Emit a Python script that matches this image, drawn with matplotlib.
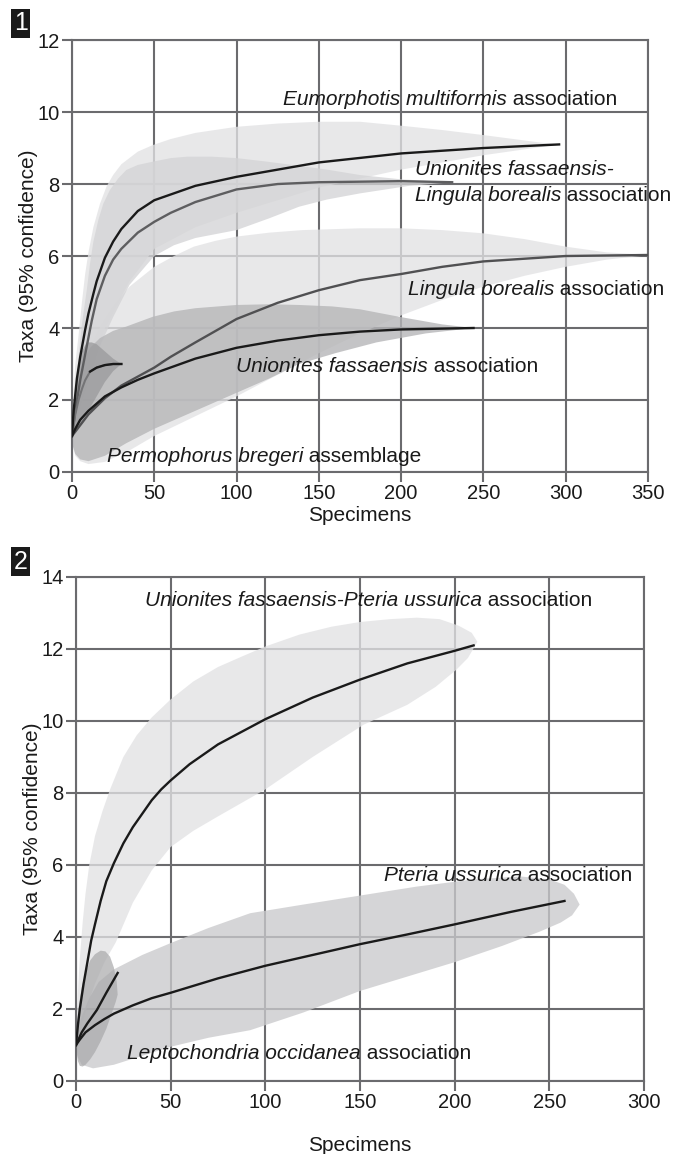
import matplotlib
matplotlib.use('Agg')
import matplotlib.pyplot as plt

plt.rcParams['font.family'] = ['Liberation Sans', 'DejaVu Sans']

# ---- panel 1: rarefaction curves ----
eum_x = [0, 1, 3, 5, 8, 10, 13, 15, 20, 25, 30, 40, 50, 75, 100, 150, 200, 250, 296]
eum_y = [1, 1.7, 2.6, 3.2, 3.95, 4.4, 4.95, 5.3, 5.95, 6.4, 6.75, 7.25, 7.55, 7.95, 8.2, 8.6, 8.85, 9.0, 9.1]
uflb_x = [0, 2, 5, 9, 12, 15, 20, 25, 30, 40, 50, 60, 75, 100, 125, 150, 200, 231]
uflb_y = [1, 1.7, 2.55, 3.5, 4.2, 4.8, 5.45, 5.9, 6.2, 6.65, 6.95, 7.2, 7.5, 7.85, 8.0, 8.05, 8.08, 8.05]
lb_x = [0, 5, 10, 20, 30, 40, 50, 60, 75, 100, 125, 150, 175, 200, 225, 250, 300, 352]
lb_y = [1, 1.3, 1.6, 2.05, 2.4, 2.65, 2.9, 3.2, 3.6, 4.25, 4.7, 5.05, 5.33, 5.5, 5.7, 5.85, 6.0, 6.03]
uf_x = [0, 2, 5, 10, 15, 20, 30, 40, 50, 75, 100, 125, 150, 175, 200, 244]
uf_y = [1, 1.2, 1.45, 1.7, 1.9, 2.1, 2.35, 2.56, 2.74, 3.15, 3.45, 3.65, 3.8, 3.9, 3.96, 4.0]
pb_x = [0, 2, 4, 6, 8, 11, 15, 20, 25, 30]
pb_y = [1, 1.6, 2.0, 2.3, 2.55, 2.79, 2.9, 2.97, 3.0, 3.0]

# 95% confidence envelopes (upper / lower edges)
eum_up_x = [0, 1, 2, 4, 6, 8, 10, 13, 17, 21, 25, 30, 40, 49, 60, 75, 100, 125, 150, 175,
            200, 225, 250, 270, 285, 296]
eum_up_y = [1, 2.2, 3.0, 3.8, 4.7, 5.5, 6.1, 6.8, 7.45, 7.93, 8.25, 8.55, 8.9, 9.08, 9.25, 9.42,
            9.59, 9.68, 9.73, 9.73, 9.62, 9.5, 9.36, 9.24, 9.15, 9.1]
eum_lo_x = [0, 10, 20, 35, 50, 75, 100, 150, 200, 250, 296]
eum_lo_y = [1, 2.8, 4.0, 5.3, 6.2, 6.8, 7.2, 7.9, 8.4, 8.8, 9.1]
uflb_up_x = [0, 2, 4, 6, 9, 11, 13, 16, 19, 23, 28, 33, 40, 49, 60, 70, 85, 100, 117, 134,
             155, 175, 200, 231]
uflb_up_y = [1, 2.0, 3.2, 4.1, 5.06, 5.8, 6.4, 7.0, 7.45, 7.83, 8.15, 8.39, 8.53, 8.62, 8.72,
             8.76, 8.76, 8.72, 8.63, 8.53, 8.4, 8.25, 8.13, 8.05]
uflb_lo_x = [0, 5, 10, 17, 25, 35, 50, 62, 75, 100, 120, 138, 155, 175, 205, 231]
uflb_lo_y = [1, 1.8, 2.5, 3.5, 4.3, 5.2, 6.0, 6.3, 6.5, 6.72, 7.05, 7.37, 7.57, 7.74, 7.95, 8.05]
lb_up_x = [0, 3, 5, 8, 12, 18, 25, 35, 50, 62, 74, 87, 100, 120, 140, 175, 200, 225, 250,
           275, 300, 325, 352]
lb_up_y = [1, 1.9, 2.4, 3.0, 3.55, 4.1, 4.6, 5.15, 5.7, 6.0, 6.26, 6.42, 6.54, 6.65, 6.72,
           6.77, 6.77, 6.72, 6.63, 6.47, 6.26, 6.1, 6.03]
lb_lo_x = [0, 2, 5, 10, 20, 35, 50, 75, 100, 125, 150, 175, 200, 225, 250, 275, 300, 325, 352]
lb_lo_y = [0.8, 0.45, 0.3, 0.22, 0.28, 0.6, 1.0, 1.55, 2.1, 2.7, 3.3, 3.85, 4.35, 4.78, 5.15,
           5.45, 5.7, 5.9, 6.03]
uf_up_x = [0, 2, 4, 7, 11, 17, 25, 33, 49, 62, 75, 100, 120, 138, 158, 175, 199, 225, 244]
uf_up_y = [1, 2.0, 2.65, 3.1, 3.45, 3.72, 3.92, 4.04, 4.31, 4.46, 4.55, 4.64, 4.66, 4.64, 4.6,
           4.52, 4.31, 4.1, 4.0]
uf_lo_x = [0, 2, 5, 10, 20, 33, 50, 75, 100, 120, 138, 160, 185, 215, 244]
uf_lo_y = [0.8, 0.5, 0.35, 0.3, 0.45, 0.8, 1.2, 1.7, 2.2, 2.6, 3.0, 3.3, 3.6, 3.85, 4.0]
pb_up_x = [0, 2, 4, 6, 9, 12, 15, 20, 25, 30]
pb_up_y = [1, 2.3, 3.0, 3.35, 3.6, 3.6, 3.55, 3.35, 3.15, 3.0]
pb_lo_x = [0, 5, 10, 15, 20, 25, 30]
pb_lo_y = [1, 1.3, 1.7, 2.1, 2.5, 2.8, 3.0]

# ---- panel 2 ----
ufpu_x = [0, 1, 2, 4, 6, 8, 10, 13, 16, 20, 25, 30, 40, 45, 50, 60, 75, 100, 125, 150, 175, 200, 210]
ufpu_y = [1, 1.55, 2.0, 2.7, 3.3, 3.9, 4.35, 5.0, 5.55, 6.05, 6.6, 7.05, 7.8, 8.1, 8.35, 8.8,
          9.35, 10.05, 10.65, 11.15, 11.6, 11.95, 12.1]
pu_x = [0, 2, 5, 10, 15, 20, 30, 40, 50, 75, 100, 125, 150, 175, 200, 230, 258]
pu_y = [1, 1.15, 1.35, 1.55, 1.72, 1.87, 2.1, 2.3, 2.45, 2.85, 3.2, 3.5, 3.8, 4.07, 4.35, 4.7, 5.0]
lo_x = [0, 3, 6, 11, 16, 22]
lo_y = [1, 1.35, 1.6, 1.97, 2.45, 3.0]

ufpu_up_x = [0, 1, 2, 3.5, 5, 7, 10, 14, 18, 25, 32, 40, 50, 62, 75, 88, 100, 118, 135, 150,
             166, 180, 192, 202, 209, 212]
ufpu_up_y = [1.5, 2.5, 3.4, 4.4, 5.2, 6.0, 6.8, 7.5, 8.1, 9.0, 9.6, 10.1, 10.6, 11.1, 11.5,
             11.8, 12.07, 12.4, 12.62, 12.75, 12.83, 12.87, 12.83, 12.65, 12.45, 12.2]
ufpu_lo_x = [0, 3, 6, 10, 15, 21, 30, 40, 50, 62, 75, 100, 125, 152, 175, 190, 201, 207, 212]
ufpu_lo_y = [1.0, 1.5, 2.1, 2.7, 3.3, 3.85, 4.95, 5.85, 6.5, 6.95, 7.35, 8.1, 9.0, 9.9, 10.45,
             10.95, 11.43, 11.75, 12.2]
pu_up_x = [0, 3, 7, 12, 20, 35, 50, 70, 92, 120, 150, 180, 210, 235, 250, 258, 263, 266]
pu_up_y = [1.2, 1.8, 2.3, 2.75, 3.1, 3.5, 3.83, 4.25, 4.66, 4.9, 5.15, 5.4, 5.6, 5.68, 5.6,
           5.45, 5.2, 4.9]
pu_lo_x = [0, 1, 3, 9, 20, 35, 50, 70, 92, 120, 150, 175, 200, 225, 245, 256, 262, 266]
pu_lo_y = [1.0, 0.65, 0.45, 0.35, 0.45, 0.7, 0.95, 1.2, 1.41, 1.9, 2.5, 2.9, 3.3, 3.75, 4.15,
           4.4, 4.6, 4.9]
lo_up_x = [0, 0.5, 1.5, 3, 5, 7.5, 10, 13, 15.5, 18, 20, 21.5, 22]
lo_up_y = [1.2, 1.6, 2.1, 2.6, 3.0, 3.35, 3.52, 3.62, 3.6, 3.45, 3.15, 2.75, 2.4]
lo_lo_x = [0, 0.3, 1, 2, 3.5, 5, 7.5, 10, 13, 16, 19, 21, 22]
lo_lo_y = [1.2, 0.8, 0.55, 0.42, 0.4, 0.45, 0.6, 0.8, 1.1, 1.45, 1.9, 2.2, 2.4]

GRID = '#6b6b6e'
INK = '#1a1a1a'


def envelope(ax, ux, uy, lx, ly, color, alpha=0.78):
    xs = list(ux) + list(lx)[::-1]
    ys = list(uy) + list(ly)[::-1]
    ax.fill(xs, ys, color=color, alpha=alpha, lw=0, zorder=2)


def label(ax, x, y, italic, normal='', size=15):
    t = ax.text(x, y, italic, style='italic', fontsize=size, va='center',
                color=INK, zorder=6)
    if normal:
        ax.annotate(normal, xy=(1, 0), xycoords=t, va='bottom', fontsize=size,
                    color=INK, zorder=6)
    return t


def style_axes(ax, xmax, ymax, xstep, ystep):
    ax.set_xlim(0, xmax)
    ax.set_ylim(0, ymax)
    ax.set_xticks(range(0, xmax + 1, xstep))
    ax.set_yticks(range(0, ymax + 1, ystep))
    ax.grid(True, color=GRID, lw=1.5)
    ax.set_axisbelow(True)
    for s in ax.spines.values():
        s.set_color(GRID)
        s.set_linewidth(1.5)
    ax.tick_params(direction='out', length=7, width=1.5, color=GRID,
                   labelsize=14.5, pad=2, labelcolor=INK)
    ax.set_ylabel('Taxa (95% confidence)', fontsize=15, color=INK, labelpad=-0.5)


fig = plt.figure(figsize=(6.74, 11.54), dpi=100)

# panel 1
ax1 = fig.add_axes([0.1068, 0.5910, 0.8546, 0.3743])
style_axes(ax1, 350, 12, 50, 2)
envelope(ax1, eum_up_x, eum_up_y, eum_lo_x, eum_lo_y, '#e2e2e4')
envelope(ax1, lb_up_x, lb_up_y, lb_lo_x, lb_lo_y, '#e2e2e4')
envelope(ax1, uflb_up_x, uflb_up_y, uflb_lo_x, uflb_lo_y, '#d4d4d6')
envelope(ax1, uf_up_x, uf_up_y, uf_lo_x, uf_lo_y, '#b6b6b8', 0.8)
envelope(ax1, pb_up_x, pb_up_y, pb_lo_x, pb_lo_y, '#9a9a9c', 0.75)
ax1.plot(lb_x, lb_y, color='#505052', lw=1.7, zorder=3)
ax1.plot(uflb_x, uflb_y, color='#5e5e60', lw=1.7, zorder=3)
ax1.plot(pb_x, pb_y, color='#747476', lw=1.5, zorder=3)
ax1.plot(pb_x[5:], pb_y[5:], color=INK, lw=1.7, zorder=4)
ax1.plot(uf_x, uf_y, color=INK, lw=1.7, zorder=4)
ax1.plot(eum_x, eum_y, color=INK, lw=1.7, zorder=4)
ax1.set_xlabel('Specimens', fontsize=15, labelpad=2, color=INK)

label(ax1, 128, 10.35, 'Eumorphotis multiformis', ' association')
label(ax1, 208.4, 8.39, 'Unionites fassaensis-')
label(ax1, 208.4, 7.67, 'Lingula borealis', ' association')
label(ax1, 204, 5.08, 'Lingula borealis', ' association')
label(ax1, 99.6, 2.94, 'Unionites fassaensis', ' association')
label(ax1, 21.3, 0.42, 'Permophorus bregeri', ' assemblage')

# panel 2
ax2 = fig.add_axes([0.1128, 0.0633, 0.8427, 0.4367])
style_axes(ax2, 300, 14, 50, 2)
envelope(ax2, ufpu_up_x, ufpu_up_y, ufpu_lo_x, ufpu_lo_y, '#e2e2e4')
envelope(ax2, pu_up_x, pu_up_y, pu_lo_x, pu_lo_y, '#cacacc')
envelope(ax2, lo_up_x, lo_up_y, lo_lo_x, lo_lo_y, '#a8a8aa', 0.7)
ax2.plot(ufpu_x, ufpu_y, color=INK, lw=1.7, zorder=4)
ax2.plot(pu_x, pu_y, color=INK, lw=1.7, zorder=4)
ax2.plot(lo_x, lo_y, color=INK, lw=1.7, zorder=4)
ax2.set_xlabel('Specimens', fontsize=15, labelpad=17, color=INK)

label(ax2, 36.5, 13.34, 'Unionites fassaensis-Pteria ussurica', ' association')
label(ax2, 162.7, 5.7, 'Pteria ussurica', ' association')
label(ax2, 27, 0.77, 'Leptochondria occidanea', ' association')

# panel numbers
for num, yf in [('1', 0.980), ('2', 0.5134)]:
    fig.text(0.031, yf, num, color='white', fontsize=18, ha='center', va='center',
             bbox=dict(boxstyle='square,pad=0.1', fc=INK, ec='none'))

fig.savefig('out.png', dpi=100)
